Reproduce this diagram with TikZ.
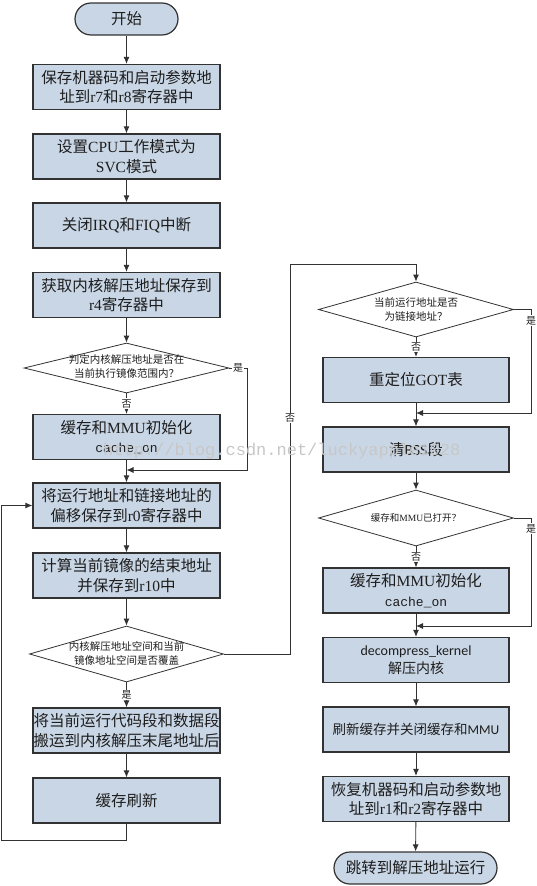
\documentclass[tikz,border=0pt]{standalone}
\usepackage{fontspec}
\setmainfont{Noto Sans CJK SC}
\newfontfamily\enfont{Liberation Serif}
\newfontfamily\mymono{Liberation Mono}
\newfontfamily\calfont{Carlito}
\newcommand\en[1]{{\enfont #1}}
\usetikzlibrary{shapes.geometric,arrows.meta}
\definecolor{boxfill}{RGB}{201,214,229}
\definecolor{edge}{RGB}{50,50,50}
\definecolor{txt}{RGB}{30,30,30}
\begin{document}
\begin{tikzpicture}[x=1pt,y=-1pt,
 box/.style={draw=edge, line width=1.2pt, fill=boxfill, minimum width=187pt, minimum height=45pt, inner sep=0pt, align=center, text=txt, font=\fontsize{15.5}{19.5}\selectfont},
 term/.style={box, rounded corners=16pt},
 dia/.style={draw=edge, line width=0.8pt, fill=white, diamond, inner sep=0pt},
 ditext/.style={align=center, text=txt, font=\fontsize{10.5}{14}\selectfont, inner sep=0pt},
 lab/.style={fill=white, inner sep=1pt, text=txt, font=\fontsize{10}{11}\selectfont},
 flow/.style={draw=edge, line width=0.9pt, -{Latex[length=7pt,width=6pt]}},
 cacheon/.style={},
]
\useasboundingbox (0,0) rectangle (537,886);

% left column
\node[term, minimum width=103pt, minimum height=32pt] (start) at (126.5,19) {开始};
\node[box] (b1) at (126.5,87) {保存机器码和启动参数地\\址到\en{r7}和\en{r8}寄存器中};
\node[box] (b2) at (126.5,156.5) {设置\en{CPU}工作模式为\\\en{SVC}模式};
\node[box] (b3) at (126.5,225.5) {关闭\en{IRQ}和\en{FIQ}中断};
\node[box] (b4) at (126.5,295) {获取内核解压地址保存到\\\en{r4}寄存器中};
\node[dia, minimum width=205pt, minimum height=50pt] (d1) at (126.5,368) {};
\node[ditext] (d1t) at (126.5,366) {判定内核解压地址是否在\\当前执行镜像范围内？};
\node[box] (b5) at (126.5,437) {缓存和\en{MMU}初始化\\{\mymono\fontsize{13}{19.5}\selectfont cache\_on}};
\node[box] (b6) at (126.5,505.5) {将运行地址和链接地址的\\偏移保存到\en{r0}寄存器中};
\node[box] (b7) at (126.5,575.5) {计算当前镜像的结束地址\\并保存到\en{r10}中};
\node[dia, minimum width=194pt, minimum height=56pt] (d2) at (126.5,654) {};
\node[ditext] (d2t) at (126.5,653.5) {内核解压地址空间和当前\\镜像地址空间是否覆盖};
\node[box] (b8) at (126.5,730.5) {将当前运行代码段和数据段\\搬运到内核解压末尾地址后};
\node[box] (b9) at (126.5,800.5) {缓存刷新};

% right column
\node[dia, minimum width=195pt, minimum height=55pt] (d3) at (416,309.5) {};
\node[ditext] (d3t) at (416,309.5) {当前运行地址是否\\为链接地址？};
\node[box, minimum width=186pt] (b10) at (416,380) {重定位\en{GOT}表};
\node[box, minimum width=186pt] (b11) at (416,449.5) {清{\calfont BSS}段};
\node[dia, minimum width=195pt, minimum height=56pt] (d4) at (416,518) {};
\node[ditext, font=\fontsize{9.5}{12}\selectfont] (d4t) at (416,518) {缓存和\en{MMU}已打开？};
\node[box, minimum width=186pt] (b12) at (416,590.5) {缓存和\en{MMU}初始化\\{\mymono\fontsize{13}{19.5}\selectfont cache\_on}};
\node[box, minimum width=186pt, font=\fontsize{14}{18.5}\selectfont] (b13) at (416,660) {{\calfont decompress\_kernel}\\解压内核};
\node[box, minimum width=186pt, font=\fontsize{13.5}{17}\selectfont] (b14) at (416,729.5) {刷新缓存并关闭缓存和{\calfont MMU}};
\node[box, minimum width=186pt] (b15) at (416,799) {恢复机器码和启动参数地\\址到\en{r1}和\en{r2}寄存器中};
\node[term, minimum width=163pt, minimum height=32pt] (end) at (415.5,868) {跳转到解压地址运行};

% coordinates
\coordinate (c1) at (247,368);
\coordinate (c2) at (247,470);
\coordinate (j1) at (126.5,470);
\coordinate (l1) at (126.5,840);
\coordinate (l2) at (1.5,840);
\coordinate (l3) at (1.5,505.5);
\coordinate (k1) at (290,654);
\coordinate (k2) at (290,264);
\coordinate (k3) at (416,264);
\coordinate (m1) at (531,309.5);
\coordinate (m2) at (531,413);
\coordinate (j2) at (416,413);
\coordinate (n1) at (531,518);
\coordinate (n2) at (531,626);
\coordinate (j3) at (416,626);

% connectors left
\draw[flow] (start) -- (b1);
\draw[flow] (b1) -- (b2);
\draw[flow] (b2) -- (b3);
\draw[flow] (b3) -- (b4);
\draw[flow] (b4) -- (d1);
\draw[flow] (d1.south) -- node[lab]{否} (b5.north);
\draw[flow] (d1.east) -- node[lab, pos=0.5]{是} (c1) -- (c2) -- (j1);
\draw[flow] (b5) -- (b6);
\draw[flow] (b6) -- (b7);
\draw[flow] (b7) -- (d2);
\draw[flow] (d2.south) -- node[lab]{是} (b8.north);
\draw[flow] (b8) -- (b9);
\draw[flow] (b9.south) -- (l1) -- (l2) -- (l3) -- (b6.west);
\draw[flow] (d2.east) -- (k1) -- node[lab, pos=0.605]{否} (k2) -- (k3) -- (d3.north);

% connectors right
\draw[flow] (d3.south) -- node[lab]{否} (b10.north);
\draw[flow] (d3.east) -- (m1) -- node[lab, pos=0.11]{是} (m2) -- (j2);
\draw[flow] (b10) -- (b11);
\draw[flow] (b11) -- (d4);
\draw[flow] (d4.south) -- node[lab]{否} (b12.north);
\draw[flow] (d4.east) -- (n1) -- node[lab, pos=0.1]{是} (n2) -- (j3);
\draw[flow] (b12) -- (b13);
\draw[flow] (b13) -- (b14);
\draw[flow] (b14) -- (b15);
\draw[flow] (b15) -- (end);

% watermark
\node[anchor=west, text=black!22, font=\mymono\fontsize{17}{17}\selectfont, inner sep=0pt] (wm) at (103,451) {http://blog.csdn.net/luckyapple1028};
\end{tikzpicture}
\end{document}
